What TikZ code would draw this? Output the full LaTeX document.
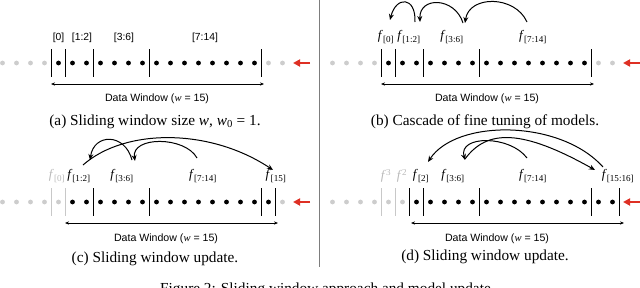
\documentclass[tikz,border=0pt]{standalone}
\usepackage{fontspec}
\setmainfont{Liberation Serif}
\setsansfont{Liberation Sans}
\usetikzlibrary{arrows.meta,calc}
\definecolor{lightdot}{RGB}{205,205,205}
\definecolor{graybar}{RGB}{200,200,200}
\definecolor{grayfx}{RGB}{185,185,185}
\definecolor{redarrow}{RGB}{222,48,36}
\definecolor{divider}{RGB}{125,125,125}
\tikzset{
  bdot/.style={circle,fill=black,inner sep=0pt,minimum size=4.8pt},
  gdot/.style={bdot,fill=lightdot},
  bar/.style={line width=1.5pt},
  gbar/.style={line width=1.3pt,draw=graybar},
  blab/.style={font=\sffamily\fontsize{10.3}{11}\selectfont,inner sep=0pt},
  flab/.style={font=\fontsize{13}{13}\selectfont,inner sep=0pt},
  gflab/.style={flab,text=grayfx},
  captext/.style={font=\fontsize{15.3}{16}\selectfont,inner sep=0pt},
  dw/.style={font=\sffamily\fontsize{10.6}{11}\selectfont,inner sep=0pt},
  warrow/.style={{Stealth[length=4pt,width=3.2pt]}-{Stealth[length=4pt,width=3.2pt]},line width=0.6pt},
  arcarrow/.style={-{Stealth[length=6pt,width=5pt]},line width=1pt},
  newarrow/.style={-{Triangle[length=7pt,width=7pt]},line width=1.8pt,draw=redarrow},
}
\begin{document}
\begin{tikzpicture}[x=1pt,y=-1pt]
\useasboundingbox (0,0) rectangle (640,287);
\clip (0,0) rectangle (640,287);
% divider
\draw[divider,line width=0.8pt] (319.5,0) -- (319.5,267);

% ---------- panel (a)
\begin{scope}
\foreach \i in {-4,...,-1,15,16} \node[gdot] (a-d\i) at ({58.5+14*\i},63) {};
\foreach \i in {0,...,14} \node[bdot] (a-d\i) at ({58.5+14*\i},63) {};
\foreach \k in {0,1,3,7,15} \draw[bar] ({58.5+14*(\k-0.5)},49) -- ++(0,28);
\node[blab] (a-l0) at (58.5,38) {[0]};
\node[blab] (a-l12) at (82,38) {[1:2]};
\node[blab] (a-l36) at (124,38) {[3:6]};
\node[blab] (a-l714) at (205,38) {[7:14]};
\coordinate (a-wl) at (51,84); \coordinate (a-wr) at (264,84);
\draw[warrow] (a-wl) -- (a-wr);
\node[dw] (a-dw) at (157,99) {Data Window ({\rmfamily\itshape w} = 15)};
\coordinate (a-rt) at (310,63); \coordinate (a-rh) at (293,63);
\draw[newarrow] (a-rt) -- (a-rh);
\node[captext] (a-cap) at (155,121.5) {(a) Sliding window size \textit{w}, \textit{w}\textsubscript{0} = 1.};
\end{scope}

% ---------- panel (b)
\begin{scope}[shift={(330,0)}]
\foreach \i in {-4,...,-1,15,16} \node[gdot] (b-d\i) at ({58.5+14*\i},63) {};
\foreach \i in {0,...,14} \node[bdot] (b-d\i) at ({58.5+14*\i},63) {};
\foreach \k in {0,1,3,7,15} \draw[bar] ({58.5+14*(\k-0.5)},49) -- ++(0,28);
\node[flab] (b-f0) at (56,37) {\textit{f}\textsubscript{[0]}};
\node[flab] (b-f12) at (79,37) {\textit{f}\textsubscript{[1:2]}};
\node[flab] (b-f36) at (122,37) {\textit{f}\textsubscript{[3:6]}};
\node[flab] (b-f714) at (203,37) {\textit{f}\textsubscript{[7:14]}};
\draw[arcarrow] ($(b-f12)+(6,-15)$) .. controls +(1,-26) and +(6,-24) .. ($(b-f0)+(4,-17)$);
\draw[arcarrow] ($(b-f36)+(11,-14)$) .. controls +(-8,-26) and +(-1,-26) .. ($(b-f12)+(11,-15)$);
\draw[arcarrow] ($(b-f714)+(-6,-15)$) .. controls +(-12,-27) and +(4,-28) .. ($(b-f36)+(13,-14)$);
\coordinate (b-wl) at (51,84); \coordinate (b-wr) at (264,84);
\draw[warrow] (b-wl) -- (b-wr);
\node[dw] (b-dw) at (157,99) {Data Window ({\rmfamily\itshape w} = 15)};
\coordinate (b-rt) at (310,63); \coordinate (b-rh) at (293,63);
\draw[newarrow] (b-rt) -- (b-rh);
\node[captext] (b-cap) at (155,121.5) {(b) Cascade of fine tuning of models.};
\end{scope}

% ---------- panel (c)
\begin{scope}[shift={(0,139)}]
\foreach \i in {-4,...,0,16} \node[gdot] (c-d\i) at ({58.5+14*\i},63) {};
\foreach \i in {1,...,15} \node[bdot] (c-d\i) at ({58.5+14*\i},63) {};
\foreach \k in {0,1} \draw[gbar] ({58.5+14*(\k-0.5)},49) -- ++(0,28);
\foreach \k in {3,7,15,16} \draw[bar] ({58.5+14*(\k-0.5)},49) -- ++(0,28);
\node[gflab] (c-f0) at (57,37) {\textit{f}\textsubscript{[0]}};
\node[flab] (c-f12) at (79,37) {\textit{f}\textsubscript{[1:2]}};
\node[flab] (c-f36) at (122,37) {\textit{f}\textsubscript{[3:6]}};
\node[flab] (c-f714) at (203,37) {\textit{f}\textsubscript{[7:14]}};
\node[flab] (c-f15) at (276,37) {\textit{f}\textsubscript{[15]}};
\draw[arcarrow] ($(c-f36)+(10,-16)$) .. controls +(-7,-27) and +(4,-27) .. ($(c-f12)+(11,-16)$);
\draw[arcarrow] ($(c-f714)+(-6,-18)$) .. controls +(-12,-22) and +(-4,-25) .. ($(c-f36)+(13,-15)$);
\draw[arcarrow] ($(c-f12)+(4,-11)$) .. controls +(42,-37) and +(-63,-42) .. ($(c-f15)+(-3,-6)$);
\coordinate (c-wl) at (65,84); \coordinate (c-wr) at (278,84);
\draw[warrow] (c-wl) -- (c-wr);
\node[dw] (c-dw) at (166,99.5) {Data Window ({\rmfamily\itshape w} = 15)};
\coordinate (c-rt) at (310,63); \coordinate (c-rh) at (293,63);
\draw[newarrow] (c-rt) -- (c-rh);
\node[captext] (c-cap) at (155,119.5) {(c) Sliding window update.};
\end{scope}

% ---------- panel (d)
\begin{scope}[shift={(330,139)}]
\foreach \i in {-4,...,1} \node[gdot] (d-d\i) at ({58.5+14*\i},63) {};
\foreach \i in {2,...,16} \node[bdot] (d-d\i) at ({58.5+14*\i},63) {};
\foreach \k in {0,1} \draw[gbar] ({58.5+14*(\k-0.5)},49) -- ++(0,28);
\foreach \k in {2,3,7,15,17} \draw[bar] ({58.5+14*(\k-0.5)},49) -- ++(0,28);
\node[gflab] (d-f3) at (56,37) {\textit{f}\textsuperscript{3}};
\node[gflab] (d-f2g) at (72,37) {\textit{f}\textsuperscript{2}};
\node[flab] (d-f2) at (91,37) {\textit{f}\textsubscript{[2]}};
\node[flab] (d-f36) at (123,37) {\textit{f}\textsubscript{[3:6]}};
\node[flab] (d-f714) at (203,37) {\textit{f}\textsubscript{[7:14]}};
\node[flab] (d-f1516) at (288,37) {\textit{f}\textsubscript{[15:16]}};
\draw[arcarrow] ($(d-f1516)+(-15,-9)$) .. controls +(-43,-48) and +(28,-43) .. ($(d-f2)+(7,-14)$);
\draw[arcarrow] ($(d-f36)+(12,-17)$) .. controls +(22,-30) and +(-73,-41) .. ($(d-f1516)+(-23,-6)$);
\draw[arcarrow] ($(d-f714)+(-6,-18)$) .. controls +(-17,-23) and +(-7,-25) .. ($(d-f36)+(12,-16)$);
\coordinate (d-wl) at (81,84); \coordinate (d-wr) at (294,84);
\draw[warrow] (d-wl) -- (d-wr);
\node[dw] (d-dw) at (167,99.5) {Data Window ({\rmfamily\itshape w} = 15)};
\coordinate (d-rt) at (310,63); \coordinate (d-rh) at (293,63);
\draw[newarrow] (d-rt) -- (d-rh);
\node[captext] (d-cap) at (155,118) {(d) Sliding window update.};
\end{scope}

% figure caption (cut off at the bottom, as in the reference)
\node[captext,anchor=base west] (fig-cap) at (160,293) {Figure 2: Sliding window approach and model update.};
\end{tikzpicture}
\end{document}
